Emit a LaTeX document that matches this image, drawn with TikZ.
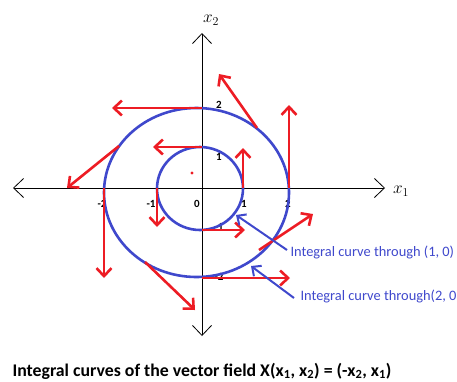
\documentclass[tikz,border=0pt]{standalone}
\usepackage{fontspec}
\setmainfont{Carlito}
\usetikzlibrary{arrows.meta,calc,positioning}
\definecolor{FieldRed}{RGB}{237,28,36}
\definecolor{CurveBlue}{RGB}{63,72,204}

\begin{document}
\begin{tikzpicture}[x=1pt,y=-1pt,
    axis/.style={{Straight Barb[length=10pt,width=19pt]}-{Straight Barb[length=10pt,width=19pt]},line width=0.8pt},
    vec/.style={-{Straight Barb[length=8pt,width=15pt]},FieldRed,line width=2.6pt},
    curve/.style={CurveBlue,line width=2.6pt},
    note/.style={-{Straight Barb[length=7pt,width=13pt]},CurveBlue,line width=2pt},
    ticklab/.style={font=\fontsize{11}{12}\selectfont\bfseries}]
  \clip (0,0) rectangle (457,381);
  \draw[axis] (13,188) -- (385,188);
  \draw[axis] (202,336) -- (202,33);
  \node (xone) at (401,191) {\LARGE$x_1$};
  \node (xtwo) at (211,20) {\LARGE$x_2$};
  \foreach \t/\x in {-2/102,-1/151,0/197,1/244,2/288}
    \node[ticklab] at (\x,204) {\t};
  \foreach \t/\y in {2/105,1/157,-1/227,-2/277}
    \node[ticklab] at (219,\y) {\t};
  \draw[curve] (196.5,192.5) ellipse [x radius=92.5,y radius=84.5];
  \draw[curve] (200,188.5) ellipse [x radius=43,y radius=41.5];
  \foreach \xa/\ya/\xb/\yb in {202/108/112/108, 202/147/153/147, 119/146/67/188,
      104/188/104/278, 157/188/157/227, 145/262/195/310, 202/230/245/230,
      202/278/290/278, 259/250/313/214, 289/188/289/105, 243/188/243/148,
      257/128/219/74}
    \draw[vec] (\xa,\ya) -- (\xb,\yb);
  \fill[FieldRed] (192,173) circle (1.6);
  \node[anchor=west,CurveBlue,font=\fontsize{14.4}{16}\selectfont] (lab1) at (287,252)
    {Integral curve through (1, 0)};
  \node[anchor=west,CurveBlue,font=\fontsize{14.4}{16}\selectfont] (lab2) at (297,296)
    {Integral curve through(2, 0)};
  \coordinate (on1) at (236,215);
  \coordinate (on2) at (251,266);
  \draw[note] ($(lab1.west)+(0,-2)$) -- (on1);
  \draw[note] ($(lab2.west)+(-3,2)$) -- (on2);
  \node[font=\fontsize{17.8}{20}\selectfont\bfseries] (title) at (202,371)
    {Integral curves of the vector field X(x\textsubscript{1}, x\textsubscript{2}) = (-x\textsubscript{2}, x\textsubscript{1})};
\end{tikzpicture}
\end{document}
